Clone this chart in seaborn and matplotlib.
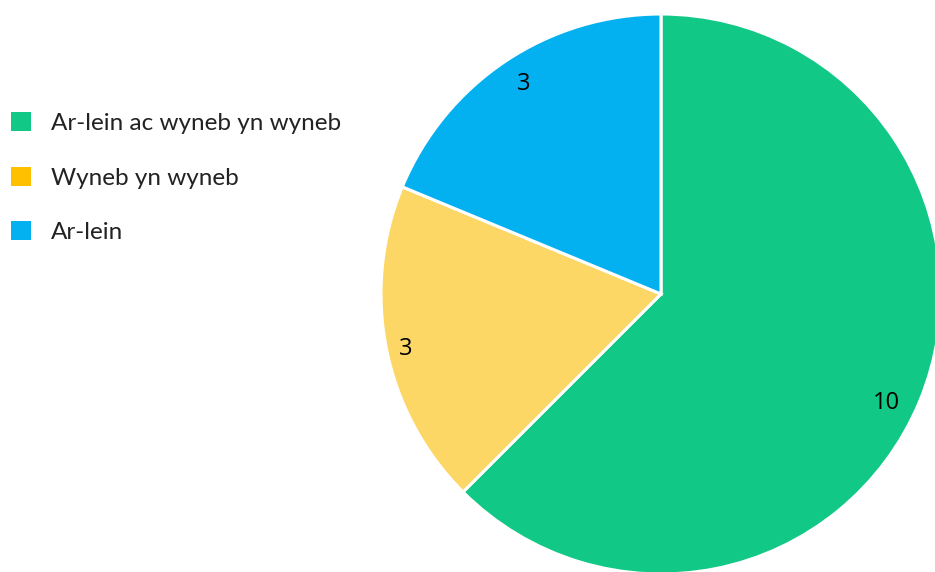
import matplotlib
matplotlib.use("Agg")
import matplotlib.pyplot as plt
from matplotlib.patches import Patch
import seaborn as sns

categories = ["Ar-lein ac wyneb yn wyneb", "Wyneb yn wyneb", "Ar-lein"]
values = [10, 3, 3]
pie_colors = ["#12C887", "#FDD766", "#03B1F0"]
legend_colors = ["#12C887", "#FFC000", "#03B1F0"]

sns.set_theme(style="white")
plt.rcParams["font.family"] = ["Lato", "DejaVu Sans"]

fig = plt.figure(figsize=(9.35, 5.72), dpi=100)
ax = fig.add_axes([381/935, -2/572, 560/935, 560/572])
wedges, texts = ax.pie(values, colors=pie_colors, startangle=90, counterclock=False,
       labels=[str(v) for v in values], labeldistance=0.9,
       textprops=dict(fontsize=17, color="black", family=["Open Sans", "DejaVu Sans"], ha="center", va="center"),
       wedgeprops=dict(edgecolor="white", linewidth=2.2), radius=1.0)
# small placement tweaks to match reference
offsets = [(-0.025, -0.045), (-0.03, -0.02), (0.01, 0.0)]
for t, (dx, dy) in zip(texts, offsets):
    x, y = t.get_position()
    t.set_position((x + dx, y + dy))
ax.set_xlim(-1, 1)
ax.set_ylim(-1, 1)
ax.set_aspect("equal")
ax.axis("off")

handles = [Patch(facecolor=c, edgecolor="none") for c in legend_colors]
fig.legend(handles, categories, loc="upper left", bbox_to_anchor=(11/935, 1 - 112/572),
           frameon=False, fontsize=17.5, labelcolor="#222222",
           handlelength=0.84, handleheight=0.82, handletextpad=0.8, labelspacing=1.35,
           borderaxespad=0, borderpad=0)

fig.savefig("out.png", dpi=100)
